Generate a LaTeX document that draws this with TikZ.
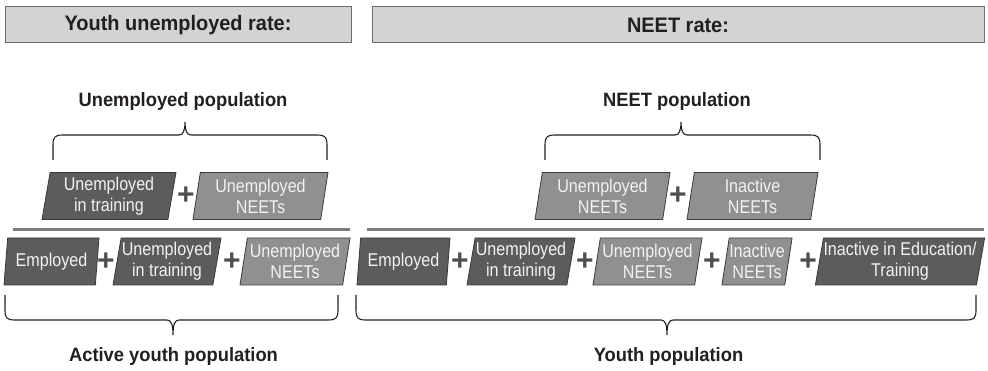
\documentclass[tikz,border=0pt]{standalone}
\usepackage{fontspec}
\setmainfont{Liberation Sans}
\newfontfamily\boxfont{Liberation Sans}[FakeStretch=0.87]
\newfontfamily\lblfont{Liberation Sans}[FakeStretch=0.95]
\usetikzlibrary{shapes.geometric}
\definecolor{headfill}{HTML}{D1D3D4}
\definecolor{headdraw}{HTML}{6D6E71}
\definecolor{darkgroup}{HTML}{5B5C5E}
\definecolor{lightgroup}{HTML}{8F9092}
\definecolor{groupdraw}{HTML}{3A3A3A}
\definecolor{grouptext}{HTML}{F2F2F2}
\definecolor{plusgray}{HTML}{4D4E50}
\definecolor{inkblack}{HTML}{231F20}
\begin{document}
\begin{tikzpicture}[x=1pt,y=-1pt]
    \tikzstyle{headbox}=[draw=headdraw,line width=1pt,fill=headfill,minimum height=36pt,inner sep=0pt,text=inkblack,font=\lblfont\bfseries\fontsize{21}{24}\selectfont]
    \tikzstyle{group}=[draw=groupdraw,line width=0.8pt,shape=trapezium,trapezium left angle=78,trapezium right angle=102,trapezium stretches body,minimum height=47pt,inner sep=0pt,text=grouptext,align=center,font=\boxfont\fontsize{18.5}{21}\selectfont]
    \tikzstyle{dark}=[group,fill=darkgroup]
    \tikzstyle{light}=[group,fill=lightgroup]
    \tikzstyle{plus}=[inner sep=0pt,text=plusgray,font=\bfseries\fontsize{30}{30}\selectfont]
    \tikzstyle{label}=[inner sep=0pt,text=inkblack,font=\lblfont\bfseries\fontsize{19.3}{22}\selectfont]
    \tikzstyle{brace}=[draw=inkblack,line width=1.1pt]
    \tikzstyle{sepline}=[draw=headdraw!90,line width=3pt]
    \useasboundingbox (0,0) rectangle (988,371);

    % headers
    \node[headbox,minimum width=346pt] (hyu) at (178,25) {Youth unemployed rate:};
    \node[headbox,minimum width=612pt] (hneet) at (678,25) {NEET rate:};

    % youth unemployed rate, numerator
    \node[label] (unpop) at (183,102) {Unemployed population};
    \node[dark,minimum width=134pt] (utrain) at (109,196) {Unemployed\\in training};
    \node[plus] (p1) at (186,196) {+};
    \node[light,minimum width=135pt] (uneet) at (260.5,196) {Unemployed\\NEETs};
    \draw[sepline] (13,230) -- (350,230);

    % youth unemployed rate, denominator
    \node[dark,minimum width=95pt] (emp) at (51.5,261.5) {Employed};
    \node[plus] (p2) at (106,262) {+};
    \node[dark,minimum width=108pt] (utrainb) at (167,261.5) {Unemployed\\in training};
    \node[plus] (p3) at (232,262) {+};
    \node[light,minimum width=110pt] (uneetb) at (295,261.5) {Unemployed\\NEETs};
    \node[label] (actpop) at (173.5,357) {Active youth population};

    % NEET rate, numerator
    \node[label] (neetpop) at (677,102) {NEET population};
    \node[light,minimum width=135pt] (neetu) at (602.5,196) {Unemployed\\NEETs};
    \node[plus] (p4) at (678,196) {+};
    \node[light,minimum width=131pt] (neeti) at (752.5,196) {Inactive\\NEETs};
    \draw[sepline] (367,230) -- (984,230);

    % NEET rate, denominator
    \node[dark,minimum width=93pt] (empr) at (403.5,261.5) {Employed};
    \node[plus] (p5) at (460,262) {+};
    \node[dark,minimum width=108pt] (utrainr) at (521,261.5) {Unemployed\\in training};
    \node[plus] (p6) at (585,262) {+};
    \node[light,minimum width=109pt] (uneetr) at (647.5,261.5) {Unemployed\\NEETs};
    \node[plus] (p7) at (712,262) {+};
    \node[light,minimum width=70pt] (ineetr) at (757,261.5) {Inactive\\NEETs};
    \node[plus] (p8) at (808,262) {+};
    \node[dark,minimum width=166pt] (ineduc) at (900,261.5) {Inactive in Education/\\Training};
    \node[label] (youthpop) at (668.5,357) {Youth population};

    % braces
    \draw[brace] (53,160) -- (53,145) .. controls (53,137) and (55,135) .. (63,135)
      -- (179,135) .. controls (183,135) and (185,131) .. (185,122)
      .. controls (185,131) and (187,135) .. (191,135)
      -- (317,135) .. controls (325,135) and (327,137) .. (327,145) -- (327,160);
    \draw[brace] (545,160) -- (545,145) .. controls (545,137) and (547,135) .. (555,135)
      -- (675,135) .. controls (679,135) and (681,131) .. (681,122)
      .. controls (681,131) and (683,135) .. (687,135)
      -- (810,135) .. controls (818,135) and (820,137) .. (820,145) -- (820,160);
    \draw[brace] (5,295) -- (5,310) .. controls (5,318) and (7,320) .. (15,320)
      -- (167,320) .. controls (171,320) and (173,324) .. (173,335)
      .. controls (173,324) and (175,320) .. (179,320)
      -- (328,320) .. controls (336,320) and (338,318) .. (338,310) -- (338,295);
    \draw[brace] (356,295) -- (356,310) .. controls (356,318) and (358,320) .. (366,320)
      -- (661,320) .. controls (665,320) and (667,324) .. (667,335)
      .. controls (667,324) and (669,320) .. (673,320)
      -- (966,320) .. controls (974,320) and (976,318) .. (976,310) -- (976,295);
\end{tikzpicture}
\end{document}
